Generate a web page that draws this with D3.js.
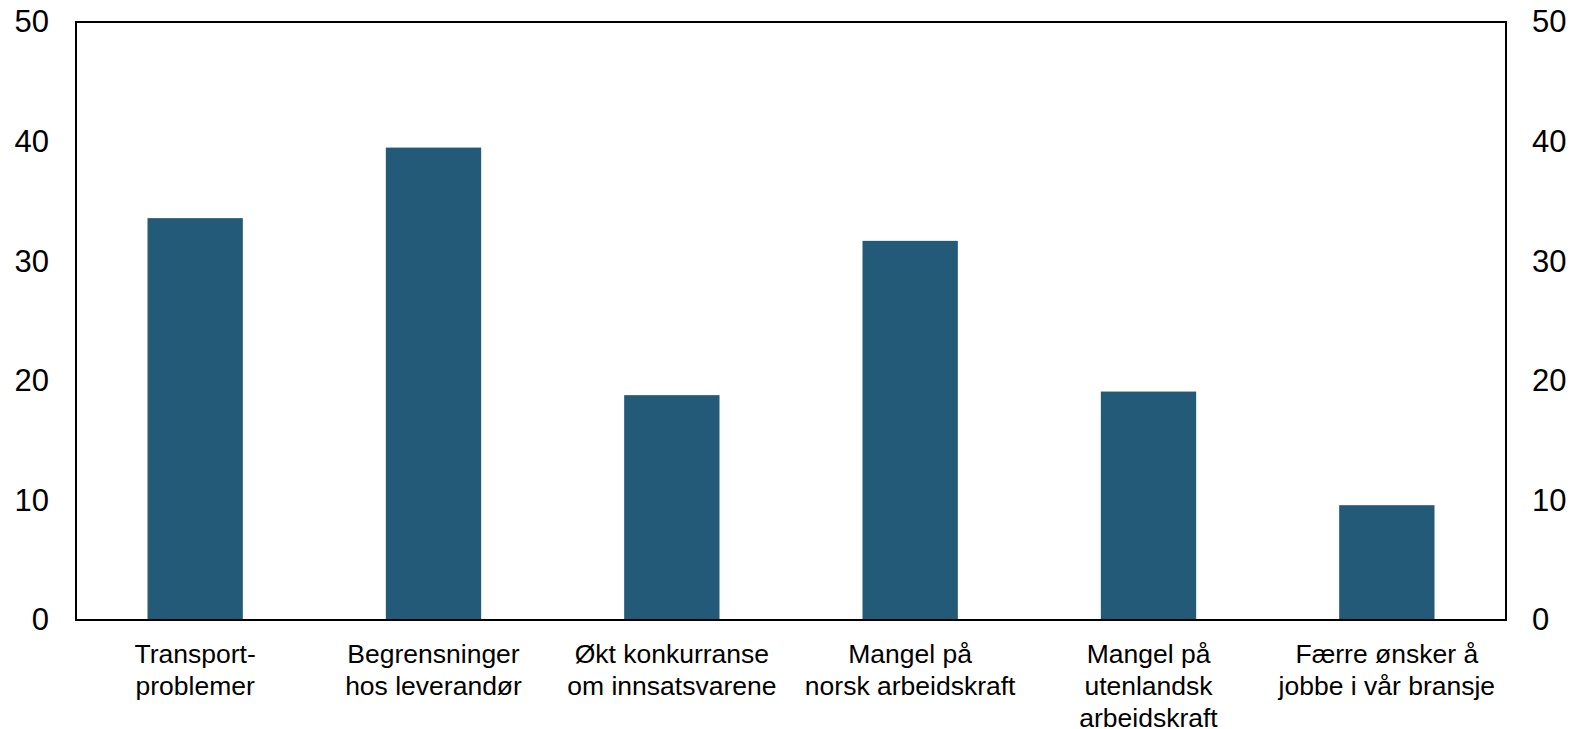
<!DOCTYPE html>
<html>
<head>
<meta charset="utf-8">
<script src="https://cdn.jsdelivr.net/npm/d3@7"></script>
<style>
  body { margin: 0; background: #fff; }
  svg { font-family: "Liberation Sans", Arial, sans-serif; }
</style>
</head>
<body>
<div id="chart"></div>
<script>
// data
var categories = [
  "Transport-\nproblemer",
  "Begrensninger\nhos leverandør",
  "Økt konkurranse\nom innsatsvarene",
  "Mangel på\nnorsk arbeidskraft",
  "Mangel på\nutenlandsk\narbeidskraft",
  "Færre ønsker å\njobbe i vår bransje"
];
var values = [33.6, 39.5, 18.8, 31.7, 19.1, 9.6];
var yTicks = [0, 10, 20, 30, 40, 50];

var width = 1580,
    height = 729,
    margin = { top: 22, right: 74, bottom: 109, left: 76 };

var svg = d3.select('#chart').append('svg')
    .attr('width', width)
    .attr('height', height);

var x = d3.scaleBand()
    .domain(categories)
    .range([margin.left, width - margin.right])
    .paddingInner(0.6)
    .paddingOuter(0.3);

var y = d3.scaleLinear()
    .domain([0, 50])
    .range([height - margin.bottom, margin.top]);

// bars
svg.append('g')
  .selectAll('rect')
  .data(values)
  .enter().append('rect')
    .attr('x', function(d, i) { return x(categories[i]); })
    .attr('y', function(d) { return y(d); })
    .attr('width', x.bandwidth())
    .attr('height', function(d) { return y(0) - y(d); })
    .attr('fill', '#235a77');

// left and right axes (labels only)
var leftAxis = svg.append('g')
    .attr('transform', 'translate(' + margin.left + ',0)')
    .call(d3.axisLeft(y).tickValues(yTicks).tickSize(0).tickPadding(27));

var rightAxis = svg.append('g')
    .attr('transform', 'translate(' + (width - margin.right) + ',0)')
    .call(d3.axisRight(y).tickValues(yTicks).tickSize(0).tickPadding(26));

[leftAxis, rightAxis].forEach(function(a) {
  a.select('.domain').remove();
  a.selectAll('text')
    .attr('font-family', '"Liberation Sans", Arial, sans-serif')
    .attr('font-size', 31)
    .attr('fill', '#000');
});

// frame
svg.append('rect')
    .attr('x', margin.left)
    .attr('y', margin.top)
    .attr('width', width - margin.left - margin.right)
    .attr('height', height - margin.top - margin.bottom)
    .attr('fill', 'none')
    .attr('stroke', '#000')
    .attr('stroke-width', 2);

// category labels
var labels = svg.append('g')
  .selectAll('text')
  .data(categories)
  .enter().append('text')
    .attr('text-anchor', 'middle')
    .attr('font-size', 26.5)
    .attr('fill', '#000')
    .attr('transform', function(d) {
      return 'translate(' + (x(d) + x.bandwidth() / 2) + ',' + 663 + ')';
    });

labels.each(function(d) {
  var t = d3.select(this);
  d.split('\n').forEach(function(line, i) {
    t.append('tspan')
      .attr('x', 0)
      .attr('y', i * 32)
      .text(line);
  });
});
</script>
</body>
</html>
